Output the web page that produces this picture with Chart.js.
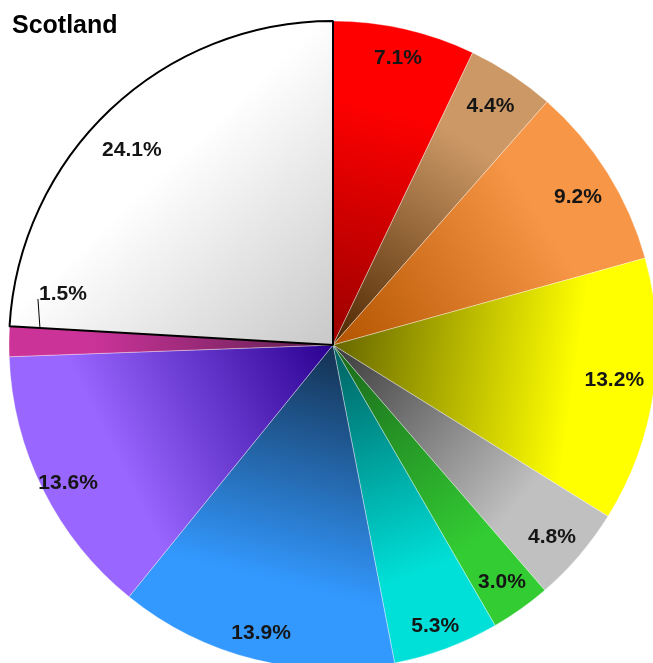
<!DOCTYPE html>
<html>
<head>
<meta charset="utf-8">
<script src="https://cdn.jsdelivr.net/npm/chart.js@4"></script>
<style>
  html, body { margin: 0; padding: 0; background: #fff; overflow: hidden; }
  #wrap { position: relative; width: 660px; height: 672px; }
</style>
</head>
<body>
<div id="wrap"><canvas id="pie"></canvas></div>
<script>
// Values (clockwise from 12 o'clock)
const categories = ["Slice 1", "Slice 2", "Slice 3", "Slice 4", "Slice 5", "Slice 6",
  "Slice 7", "Slice 8", "Slice 9", "Slice 10", "Slice 11"];
const shares = [7.1, 4.4, 9.2, 13.2, 4.8, 3.0, 5.3, 13.9, 13.6, 1.5, 24.1];
const chartTitle = "Scotland";

// colours: bright at the rim, dark toward the centre
const outerColors = ["#ff0000", "#cc9966", "#f79646", "#ffff00", "#c0c0c0", "#33cc33",
  "#00e0d8", "#3399ff", "#9966ff", "#cc3399", "#ffffff"];
const innerColors = ["#990000", "#4d2600", "#b35400", "#666600", "#3a3a3a", "#1a661a",
  "#005f5f", "#14304f", "#2a0090", "#5c1f4f", "#c8c8c8"];
// label placement (fraction of radius, angle nudge in degrees)
const labelRadius = [0.908, 0.882, 0.883, 0.875, 0.90, 0.90, 0.923, 0.916, 0.922, 0.906, 0.864];
const labelNudge = [0, 0, 1, -1, 0.8, 0, 0.5, 0, -1, 0, -2.6];

function sliceFill(context) {
  const chart = context.chart;
  const area = chart.chartArea;
  const i = context.dataIndex;
  if (!area) return outerColors[i];
  const total = shares.reduce((a, b) => a + b, 0);
  let before = 0;
  for (let k = 0; k < i; k++) before += shares[k];
  const mid = -Math.PI / 2 + (before + shares[i] / 2) / total * Math.PI * 2;
  const cx = (area.left + area.right) / 2;
  const cy = (area.top + area.bottom) / 2;
  const r = Math.min(area.width, area.height) / 2;
  const g = chart.ctx.createLinearGradient(cx, cy, cx + r * Math.cos(mid), cy + r * Math.sin(mid));
  g.addColorStop(0, innerColors[i]);
  g.addColorStop(0.75, outerColors[i]);
  g.addColorStop(1, outerColors[i]);
  return g;
}

const labelPlugin = {
  id: "sliceLabels",
  afterDatasetsDraw(chart) {
    const ctx = chart.ctx;
    const meta = chart.getDatasetMeta(0);
    ctx.save();
    ctx.fillStyle = "#151515";
    ctx.font = "bold 21px 'Liberation Sans', Arial, sans-serif";
    ctx.textAlign = "center";
    ctx.textBaseline = "middle";
    meta.data.forEach((arc, i) => {
      const p = arc.getProps(["x", "y", "startAngle", "endAngle", "outerRadius"], true);
      const text = shares[i].toFixed(1) + "%";
      if (shares[i] < 2) {
        // small slice: label lifted above, with a short leader line
        const ax = p.x + Math.cos(p.endAngle) * p.outerRadius * labelRadius[i];
        const ay = p.y + Math.sin(p.endAngle) * p.outerRadius * labelRadius[i];
        ctx.strokeStyle = "#000";
        ctx.lineWidth = 1;
        ctx.beginPath();
        ctx.moveTo(ax, ay);
        ctx.lineTo(ax - 2, ay - 29);
        ctx.stroke();
        ctx.textAlign = "left";
        ctx.fillText(text, ax - 1, ay - 34);
        ctx.textAlign = "center";
        return;
      }
      const mid = (p.startAngle + p.endAngle) / 2 + labelNudge[i] * Math.PI / 180;
      const rr = p.outerRadius * labelRadius[i];
      ctx.fillText(text, p.x + Math.cos(mid) * rr, p.y + Math.sin(mid) * rr);
    });
    ctx.font = "bold 25px 'Liberation Sans', Arial, sans-serif";
    ctx.textAlign = "left";
    ctx.textBaseline = "alphabetic";
    ctx.fillStyle = "#000";
    ctx.fillText(chartTitle, 12, 33);
    ctx.restore();
  }
};

new Chart(document.getElementById("pie"), {
  type: "pie",
  data: {
    labels: categories,
    datasets: [{
      data: shares,
      backgroundColor: sliceFill,
      borderColor: outerColors.map((c, i) => i === 10 ? "#000000" : "rgba(255,255,255,0.45)"),
      borderWidth: outerColors.map((c, i) => i === 10 ? 2 : 0.8),
      hoverOffset: 0
    }]
  },
  options: {
    responsive: true,
    maintainAspectRatio: false,
    animation: false,
    layout: { padding: { left: 8, top: 20, right: 2, bottom: 2 } },
    plugins: {
      legend: { display: false },
      tooltip: { enabled: false },
      title: { display: false }
    }
  },
  plugins: [labelPlugin]
});
</script>
</body>
</html>
